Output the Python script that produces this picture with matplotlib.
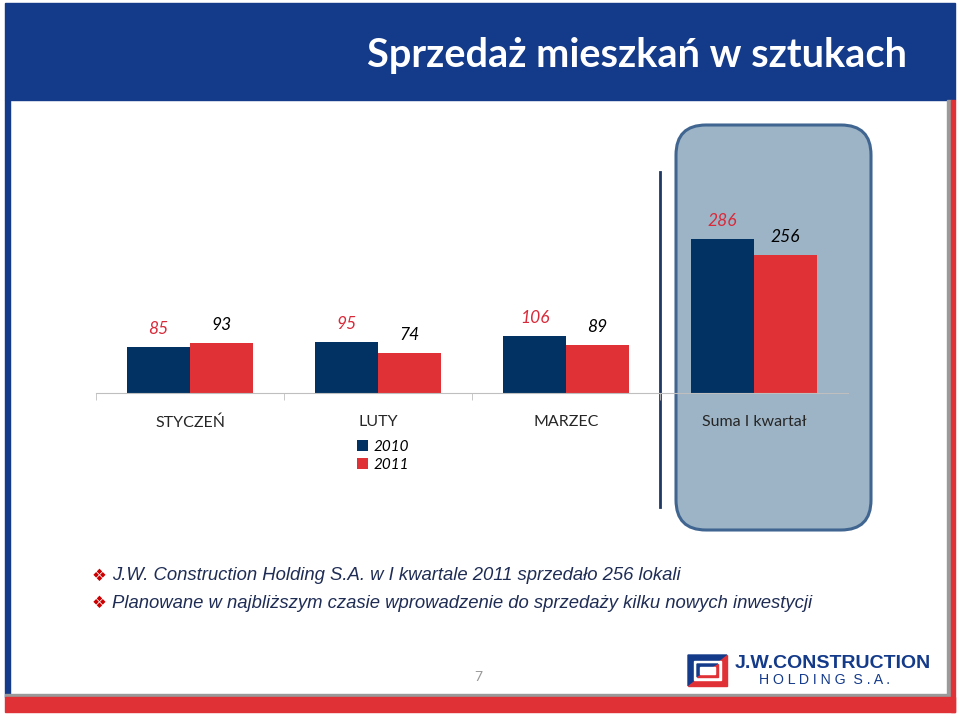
import matplotlib
matplotlib.use("Agg")
import matplotlib.pyplot as plt
from matplotlib.patches import Rectangle, FancyBboxPatch, Polygon

# data
categories = ["STYCZEŃ", "LUTY", "MARZEC", "Suma I kwartał"]
sales_2010 = [85, 95, 106, 286]
sales_2011 = [93, 74, 89, 256]
series_labels = ["2010", "2011"]

title = "Sprzedaż mieszkań w sztukach"
bullets = [
    "J.W. Construction Holding S.A. w I kwartale 2011 sprzedało 256 lokali",
    "Planowane w najbliższym czasie wprowadzenie do sprzedaży kilku nowych inwestycji",
]

NAVY = "#013263"
RED = "#E03236"
LABEL_RED = "#D92A3A"
BAND = "#143A8A"
CAL = ["Lato", "DejaVu Sans"]

fig = plt.figure(figsize=(9.6, 7.16), dpi=100)

# background layer in pixel coordinates
bg = fig.add_axes([0, 0, 1, 1])
bg.set_xlim(0, 960)
bg.set_ylim(716, 0)
bg.axis("off")

# slide frame
bg.add_patch(Rectangle((5, 3), 950, 97, color=BAND))
bg.add_patch(Rectangle((5, 100), 5, 597, color=BAND))
bg.add_patch(Rectangle((5, 694), 946, 3, color="#9A9A9A"))
bg.add_patch(Rectangle((947, 100), 4, 597, color="#9A9A9A"))
bg.add_patch(Rectangle((5, 697), 950, 15, color=RED))
bg.add_patch(Rectangle((951, 100), 4, 612, color=RED))

bg.text(637, 55, title, color="white", fontsize=28.6, fontweight="bold",
        family=CAL, ha="center", va="center")

# highlight box for the quarter total
bg.add_patch(FancyBboxPatch((676, 125), 195, 405,
                            boxstyle="round,pad=0,rounding_size=30",
                            facecolor="#9DB4C6", edgecolor="#3F6590", lw=2.2))
bg.plot([660, 660], [172, 507], color="#1F3864", lw=2)

# bullets
for i, line in enumerate(bullets):
    y = 576 + i * 27
    bg.text(99, y, "\u2756", color="#CC0000", fontsize=12, family="DejaVu Sans",
            ha="center", va="center")
    bg.text(112, y, line, color="#1F2D55", fontsize=13.3, style="italic",
            family="Liberation Sans", ha="left", va="center")

# page number and logo
bg.text(478, 677, "7", color="#999999", fontsize=10, family=CAL,
        ha="center", va="center")
bg.add_patch(Polygon([(688, 655), (727, 655), (688, 686)], color=BAND))
bg.add_patch(Polygon([(727, 655), (727, 686), (688, 686)], color=RED))
bg.add_patch(Rectangle((694, 661), 27, 19, color="white"))
bg.add_patch(Polygon([(697, 664), (718, 664), (697, 677)], color=BAND))
bg.add_patch(Polygon([(718, 664), (718, 677), (697, 677)], color=RED))
bg.add_patch(Rectangle((700, 667), 15, 7, color="white"))
bg.text(833, 663, "J.W.CONSTRUCTION", color=BAND, fontsize=14, fontweight="bold",
        family="Liberation Sans", ha="center", va="center")
bg.text(825, 680, "H O L D I N G  S . A .", color=BAND, fontsize=10.2,
        family="Liberation Sans", ha="center", va="center")

# chart
ax = fig.add_axes([96 / 960, (716 - 393) / 716, 752 / 960, 243 / 716])
ax.patch.set_alpha(0)
x = list(range(len(categories)))
w = 0.335
b1 = ax.bar([i - w / 2 for i in x], sales_2010, w, color=NAVY, label=series_labels[0])
b2 = ax.bar([i + w / 2 for i in x], sales_2011, w, color=RED, label=series_labels[1])
for bar, v in zip(b1, sales_2010):
    ax.annotate(str(v), (bar.get_x() + bar.get_width() / 2, v), xytext=(0, 13),
                textcoords="offset points", ha="center", va="center",
                color=LABEL_RED, fontsize=12.5, style="italic", family=CAL)
for bar, v in zip(b2, sales_2011):
    ax.annotate(str(v), (bar.get_x() + bar.get_width() / 2, v), xytext=(0, 13),
                textcoords="offset points", ha="center", va="center",
                color="black", fontsize=12.5, style="italic", family=CAL)

ax.set_xlim(-0.5, 3.5)
ax.set_ylim(0, 450)
for s in ["top", "right", "left"]:
    ax.spines[s].set_visible(False)
ax.spines["bottom"].set_color("#BFBFBF")
ax.set_yticks([])
ax.set_xticks(x)
ax.set_xticklabels(categories, fontsize=11.5, family=CAL, color="#262626")
ax.tick_params(axis="x", which="major", length=0, pad=16)
ax.set_xticks([-0.5, 0.5, 1.5, 2.5], minor=True)
ax.tick_params(axis="x", which="minor", length=5, color="#BFBFBF")

ax.legend(loc="center", bbox_to_anchor=(383 / 960, (716 - 456) / 716),
          bbox_transform=fig.transFigure, frameon=False, handlelength=0.7,
          handleheight=0.7, handletextpad=0.4, labelspacing=0.25,
          prop={"family": CAL, "style": "italic", "size": 11})

fig.savefig("out.png", dpi=100)
